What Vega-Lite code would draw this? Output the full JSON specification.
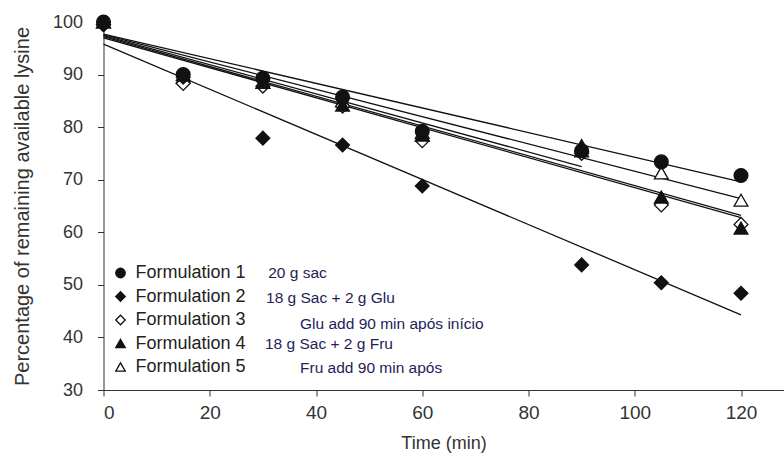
{
  "$schema": "https://vega.github.io/schema/vega-lite/v6.json",
  "width": 680,
  "height": 368,
  "autosize": {"type": "none"},
  "padding": {"left": 103.5, "top": 22, "right": 0, "bottom": 69},
  "background": "white",
  "config": {
    "view": {"stroke": null},
    "font": "Liberation Sans",
    "axis": {
      "grid": false,
      "domainColor": "#333333",
      "tickColor": "#333333",
      "tickSize": 6,
      "labelColor": "#333333",
      "titleFontWeight": "normal",
      "titleColor": "#333333",
      "labelFont": "Liberation Sans",
      "titleFont": "Liberation Sans"
    },
    "legend": {
      "title": null,
      "orient": "none",
      "legendX": 8,
      "legendY": 242,
      "labelFontSize": 18,
      "labelColor": "#222222",
      "labelFont": "Liberation Sans",
      "symbolSize": 90,
      "symbolStrokeWidth": 1.3,
      "rowPadding": 5.5,
      "labelOffset": 6
    }
  },
  "datasets": {
    "points": [
      {"formulation": "Formulation 5", "time": 0, "value": 100},
      {"formulation": "Formulation 5", "time": 15, "value": 89.5},
      {"formulation": "Formulation 5", "time": 30, "value": 88.5},
      {"formulation": "Formulation 5", "time": 45, "value": 85},
      {"formulation": "Formulation 5", "time": 60, "value": 79},
      {"formulation": "Formulation 5", "time": 90, "value": 75.5},
      {"formulation": "Formulation 5", "time": 105, "value": 71.3},
      {"formulation": "Formulation 5", "time": 120, "value": 66.1},
      {"formulation": "Formulation 3", "time": 0, "value": 99.5},
      {"formulation": "Formulation 3", "time": 15, "value": 88.3},
      {"formulation": "Formulation 3", "time": 30, "value": 87.8},
      {"formulation": "Formulation 3", "time": 45, "value": 84},
      {"formulation": "Formulation 3", "time": 60, "value": 77.4},
      {"formulation": "Formulation 3", "time": 90, "value": 75},
      {"formulation": "Formulation 3", "time": 105, "value": 65.2},
      {"formulation": "Formulation 3", "time": 120, "value": 61.5},
      {"formulation": "Formulation 2", "time": 0, "value": 99.5},
      {"formulation": "Formulation 2", "time": 15, "value": 89.5},
      {"formulation": "Formulation 2", "time": 30, "value": 77.9},
      {"formulation": "Formulation 2", "time": 45, "value": 76.6},
      {"formulation": "Formulation 2", "time": 60, "value": 68.8},
      {"formulation": "Formulation 2", "time": 90, "value": 53.8},
      {"formulation": "Formulation 2", "time": 105, "value": 50.4},
      {"formulation": "Formulation 2", "time": 120, "value": 48.4},
      {"formulation": "Formulation 4", "time": 0, "value": 100},
      {"formulation": "Formulation 4", "time": 15, "value": 90},
      {"formulation": "Formulation 4", "time": 30, "value": 88.5},
      {"formulation": "Formulation 4", "time": 45, "value": 84.2},
      {"formulation": "Formulation 4", "time": 60, "value": 78.5},
      {"formulation": "Formulation 4", "time": 90, "value": 76.5},
      {"formulation": "Formulation 4", "time": 105, "value": 66.7},
      {"formulation": "Formulation 4", "time": 120, "value": 60.8},
      {"formulation": "Formulation 1", "time": 0, "value": 100},
      {"formulation": "Formulation 1", "time": 15, "value": 90},
      {"formulation": "Formulation 1", "time": 30, "value": 89.3},
      {"formulation": "Formulation 1", "time": 45, "value": 85.7},
      {"formulation": "Formulation 1", "time": 60, "value": 79.2},
      {"formulation": "Formulation 1", "time": 90, "value": 75.5},
      {"formulation": "Formulation 1", "time": 105, "value": 73.4},
      {"formulation": "Formulation 1", "time": 120, "value": 70.8}
    ],
    "fits": [
      {"series": "Formulation 1", "time": 0, "value": 97.7},
      {"series": "Formulation 1", "time": 120, "value": 69.6},
      {"series": "Formulation 2", "time": 0, "value": 95.8},
      {"series": "Formulation 2", "time": 120, "value": 44.3},
      {"series": "Formulation 3", "time": 0, "value": 97.2},
      {"series": "Formulation 3", "time": 120, "value": 63.2},
      {"series": "Formulation 4", "time": 0, "value": 97.0},
      {"series": "Formulation 4", "time": 120, "value": 62.8},
      {"series": "Formulation 5", "time": 0, "value": 97.6},
      {"series": "Formulation 5", "time": 120, "value": 66.4},
      {"series": "Formulation 3 (0-90 min)", "time": 0, "value": 97.4},
      {"series": "Formulation 3 (0-90 min)", "time": 90, "value": 72.5}
    ],
    "notes": [
      {"label": "20 g sac", "time": 31.0, "value": 52.3},
      {"label": "18 g Sac + 2 g Glu", "time": 30.6, "value": 47.5},
      {"label": "Glu add 90 min após início", "time": 37.0, "value": 42.6},
      {"label": "18 g Sac + 2 g Fru", "time": 30.4, "value": 38.8},
      {"label": "Fru add 90 min após", "time": 37.0, "value": 34.2}
    ]
  },
  "layer": [
    {
      "data": {"name": "fits"},
      "mark": {"type": "line", "color": "#111111", "strokeWidth": 1.3, "clip": false},
      "encoding": {
        "x": {
          "field": "time", "type": "quantitative",
          "scale": {"domain": [0, 128], "nice": false, "zero": false},
          "axis": {"values": [0, 20, 40, 60, 80, 100, 120], "title": "Time (min)", "labelFontSize": 19, "titleFontSize": 18, "labelPadding": 7, "titlePadding": 12}
        },
        "y": {
          "field": "value", "type": "quantitative",
          "scale": {"domain": [30, 100], "nice": false, "zero": false},
          "axis": {"values": [30, 40, 50, 60, 70, 80, 90, 100], "title": "Percentage of remaining available lysine", "labelFontSize": 18, "titleFontSize": 20, "labelPadding": 15, "titlePadding": 20}
        },
        "detail": {"field": "series"}
      }
    },
    {
      "data": {"name": "points"},
      "mark": {"type": "point", "strokeWidth": 1.3, "opacity": 1, "fillOpacity": 1, "size": 190, "clip": false},
      "encoding": {
        "x": {"field": "time", "type": "quantitative"},
        "y": {"field": "value", "type": "quantitative"},
        "shape": {
          "field": "formulation", "type": "nominal",
          "scale": {
            "domain": ["Formulation 1", "Formulation 2", "Formulation 3", "Formulation 4", "Formulation 5"],
            "range": ["circle", "diamond", "diamond", "triangle-up", "triangle-up"]
          }
        },
        "fill": {
          "field": "formulation", "type": "nominal",
          "scale": {
            "domain": ["Formulation 1", "Formulation 2", "Formulation 3", "Formulation 4", "Formulation 5"],
            "range": ["#111111", "#111111", "#ffffff", "#111111", "#ffffff"]
          }
        },
        "stroke": {
          "field": "formulation", "type": "nominal",
          "scale": {
            "domain": ["Formulation 1", "Formulation 2", "Formulation 3", "Formulation 4", "Formulation 5"],
            "range": ["#111111", "#111111", "#111111", "#111111", "#111111"]
          }
        }
      }
    },
    {
      "data": {"name": "notes"},
      "mark": {"type": "text", "align": "left", "baseline": "middle", "fontSize": 15.5, "color": "#231d57", "font": "Liberation Sans"},
      "encoding": {
        "x": {"field": "time", "type": "quantitative"},
        "y": {"field": "value", "type": "quantitative"},
        "text": {"field": "label"}
      }
    }
  ]
}
